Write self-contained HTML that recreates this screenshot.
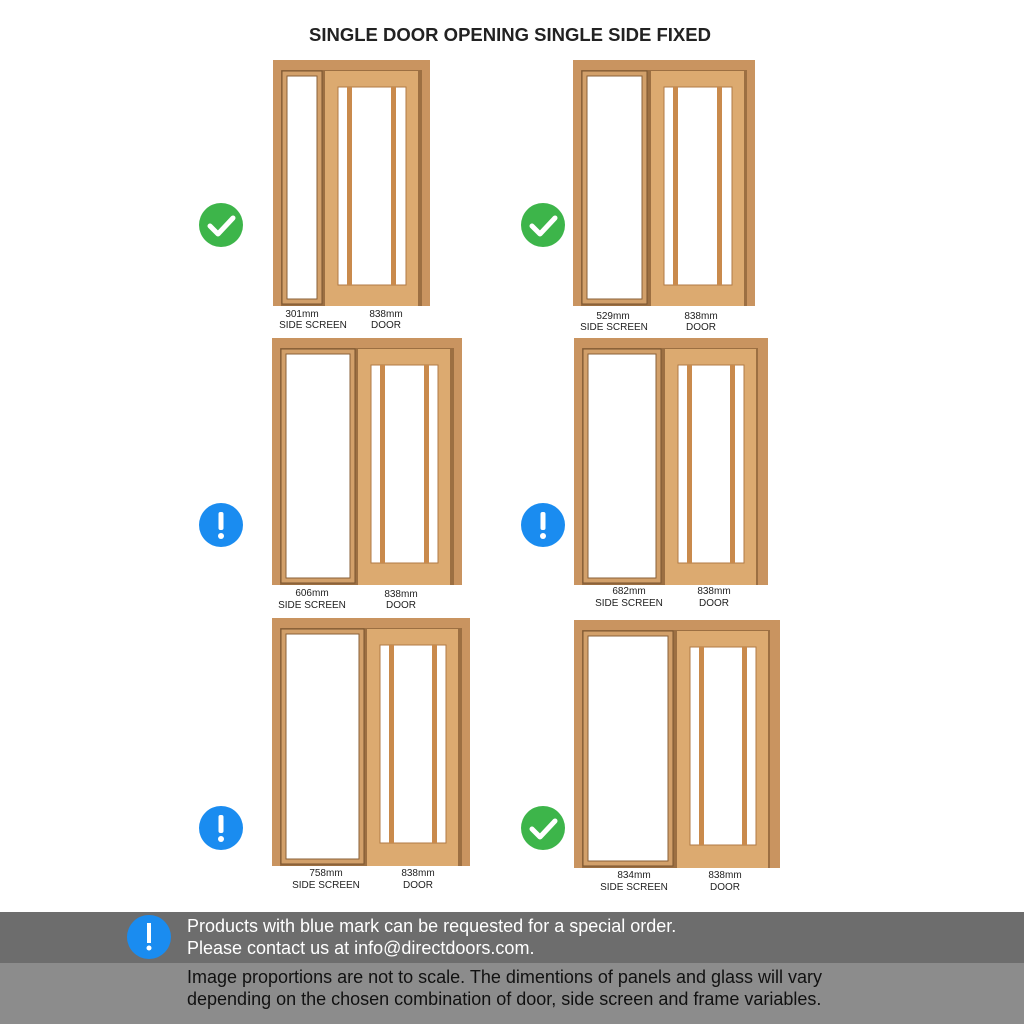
<!DOCTYPE html>
<html><head><meta charset="utf-8"><style>
body{margin:0;background:#fff;width:1024px;height:1024px;overflow:hidden;position:relative;font-family:"Liberation Sans",sans-serif}
svg{position:absolute;left:0;top:0}
.l{font-family:"Liberation Sans",sans-serif;font-size:10px;fill:#222;text-anchor:middle}
.b1{position:absolute;left:0;top:912px;width:1024px;height:51px;background:#6d6d6d}
.b2{position:absolute;left:0;top:963px;width:1024px;height:61px;background:#8c8c8c}
.t1{position:absolute;left:187px;top:915px;color:#fff;font-size:18px;line-height:22px}
.t2{position:absolute;left:187px;top:966px;color:#111;font-size:18px;line-height:22px}
</style></head><body>
<div class="b1"></div><div class="b2"></div>
<div class="t1">Products with blue mark can be requested for a special order.<br>Please contact us at info@directdoors.com.</div>
<div class="t2">Image proportions are not to scale. The dimentions of panels and glass will vary<br>depending on the chosen combination of door, side screen and frame variables.</div>
<svg width="1024" height="1024" viewBox="0 0 1024 1024">
<defs>
<g id="ok"><circle r="22" fill="#3db54a"/><path d="M-11 1 L-3 9 L12 -7" stroke="#fff" stroke-width="5" fill="none" stroke-linecap="round" stroke-linejoin="round"/></g>
<g id="ex"><circle r="22" fill="#1a8cf0"/><rect x="-2.5" y="-13" width="5" height="18" rx="2" fill="#fff"/><circle cy="11" r="3" fill="#fff"/></g>
</defs>
<text x="510" y="41" text-anchor="middle" font-family="Liberation Sans" font-weight="bold" font-size="18.5" fill="#222">SINGLE DOOR OPENING SINGLE SIDE FIXED</text>

<g>
<rect x="273" y="60" width="157" height="246" fill="#c99460"/>
<rect x="281" y="70" width="141" height="236" fill="#9c6f42"/>
<rect x="282" y="71" width="40" height="233" fill="#d2a06a" stroke="#7a5530"/>
<rect x="287" y="76" width="30" height="223" fill="#fff" stroke="#8a6038"/>
<rect x="325" y="71" width="93" height="235" fill="#dcaa70"/>
<rect x="338" y="87" width="68" height="198" fill="#fff" stroke="#b07a45"/>
<rect x="347" y="87" width="5" height="198" fill="#c98a4c"/><rect x="391" y="87" width="5" height="198" fill="#c98a4c"/>
</g>
<g>
<rect x="573" y="60" width="182" height="246" fill="#c99460"/>
<rect x="581" y="70" width="166" height="236" fill="#9c6f42"/>
<rect x="582" y="71" width="65" height="233" fill="#d2a06a" stroke="#7a5530"/>
<rect x="587" y="76" width="55" height="223" fill="#fff" stroke="#8a6038"/>
<rect x="651" y="71" width="93" height="235" fill="#dcaa70"/>
<rect x="664" y="87" width="68" height="198" fill="#fff" stroke="#b07a45"/>
<rect x="673" y="87" width="5" height="198" fill="#c98a4c"/><rect x="717" y="87" width="5" height="198" fill="#c98a4c"/>
</g>
<g>
<rect x="272" y="338" width="190" height="247" fill="#c99460"/>
<rect x="280" y="348" width="174" height="237" fill="#9c6f42"/>
<rect x="281" y="349" width="74" height="234" fill="#d2a06a" stroke="#7a5530"/>
<rect x="286" y="354" width="64" height="224" fill="#fff" stroke="#8a6038"/>
<rect x="358" y="349" width="92" height="236" fill="#dcaa70"/>
<rect x="371" y="365" width="67" height="198" fill="#fff" stroke="#b07a45"/>
<rect x="380" y="365" width="5" height="198" fill="#c98a4c"/><rect x="424" y="365" width="5" height="198" fill="#c98a4c"/>
</g>
<g>
<rect x="574" y="338" width="194" height="247" fill="#c99460"/>
<rect x="582" y="348" width="176" height="237" fill="#9c6f42"/>
<rect x="583" y="349" width="78" height="234" fill="#d2a06a" stroke="#7a5530"/>
<rect x="588" y="354" width="68" height="224" fill="#fff" stroke="#8a6038"/>
<rect x="665" y="349" width="91" height="236" fill="#dcaa70"/>
<rect x="678" y="365" width="66" height="198" fill="#fff" stroke="#b07a45"/>
<rect x="687" y="365" width="5" height="198" fill="#c98a4c"/><rect x="730" y="365" width="5" height="198" fill="#c98a4c"/>
</g>
<g>
<rect x="272" y="618" width="198" height="248" fill="#c99460"/>
<rect x="280" y="628" width="182" height="238" fill="#9c6f42"/>
<rect x="281" y="629" width="83" height="235" fill="#d2a06a" stroke="#7a5530"/>
<rect x="286" y="634" width="73" height="225" fill="#fff" stroke="#8a6038"/>
<rect x="367" y="629" width="91" height="237" fill="#dcaa70"/>
<rect x="380" y="645" width="66" height="198" fill="#fff" stroke="#b07a45"/>
<rect x="389" y="645" width="5" height="198" fill="#c98a4c"/><rect x="432" y="645" width="5" height="198" fill="#c98a4c"/>
</g>
<g>
<rect x="574" y="620" width="206" height="248" fill="#c99460"/>
<rect x="582" y="630" width="188" height="238" fill="#9c6f42"/>
<rect x="583" y="631" width="90" height="235" fill="#d2a06a" stroke="#7a5530"/>
<rect x="588" y="636" width="80" height="225" fill="#fff" stroke="#8a6038"/>
<rect x="677" y="631" width="91" height="237" fill="#dcaa70"/>
<rect x="690" y="647" width="66" height="198" fill="#fff" stroke="#b07a45"/>
<rect x="699" y="647" width="5" height="198" fill="#c98a4c"/><rect x="742" y="647" width="5" height="198" fill="#c98a4c"/>
</g>

<text class="l" x="302" y="317">301mm</text><text class="l" x="313" y="328">SIDE SCREEN</text>
<text class="l" x="386" y="317">838mm</text><text class="l" x="386" y="328">DOOR</text>
<text class="l" x="613" y="319">529mm</text><text class="l" x="614" y="330">SIDE SCREEN</text>
<text class="l" x="701" y="319">838mm</text><text class="l" x="701" y="330">DOOR</text>
<text class="l" x="312" y="596">606mm</text><text class="l" x="312" y="608">SIDE SCREEN</text>
<text class="l" x="401" y="597">838mm</text><text class="l" x="401" y="608">DOOR</text>
<text class="l" x="629" y="594">682mm</text><text class="l" x="629" y="606">SIDE SCREEN</text>
<text class="l" x="714" y="594">838mm</text><text class="l" x="714" y="606">DOOR</text>
<text class="l" x="326" y="876">758mm</text><text class="l" x="326" y="888">SIDE SCREEN</text>
<text class="l" x="418" y="876">838mm</text><text class="l" x="418" y="888">DOOR</text>
<text class="l" x="634" y="878">834mm</text><text class="l" x="634" y="890">SIDE SCREEN</text>
<text class="l" x="725" y="878">838mm</text><text class="l" x="725" y="890">DOOR</text>

<use href="#ok" x="221" y="225"/><use href="#ok" x="543" y="225"/>
<use href="#ex" x="221" y="525"/><use href="#ex" x="543" y="525"/>
<use href="#ex" x="221" y="828"/><use href="#ok" x="543" y="828"/>
<g transform="translate(149,937)"><ellipse rx="22" ry="22" fill="#1a8cf0"/><rect x="-2" y="-14" width="4" height="20" fill="#fff"/><circle cy="11" r="2.5" fill="#fff"/></g>
</svg>
</body></html>
